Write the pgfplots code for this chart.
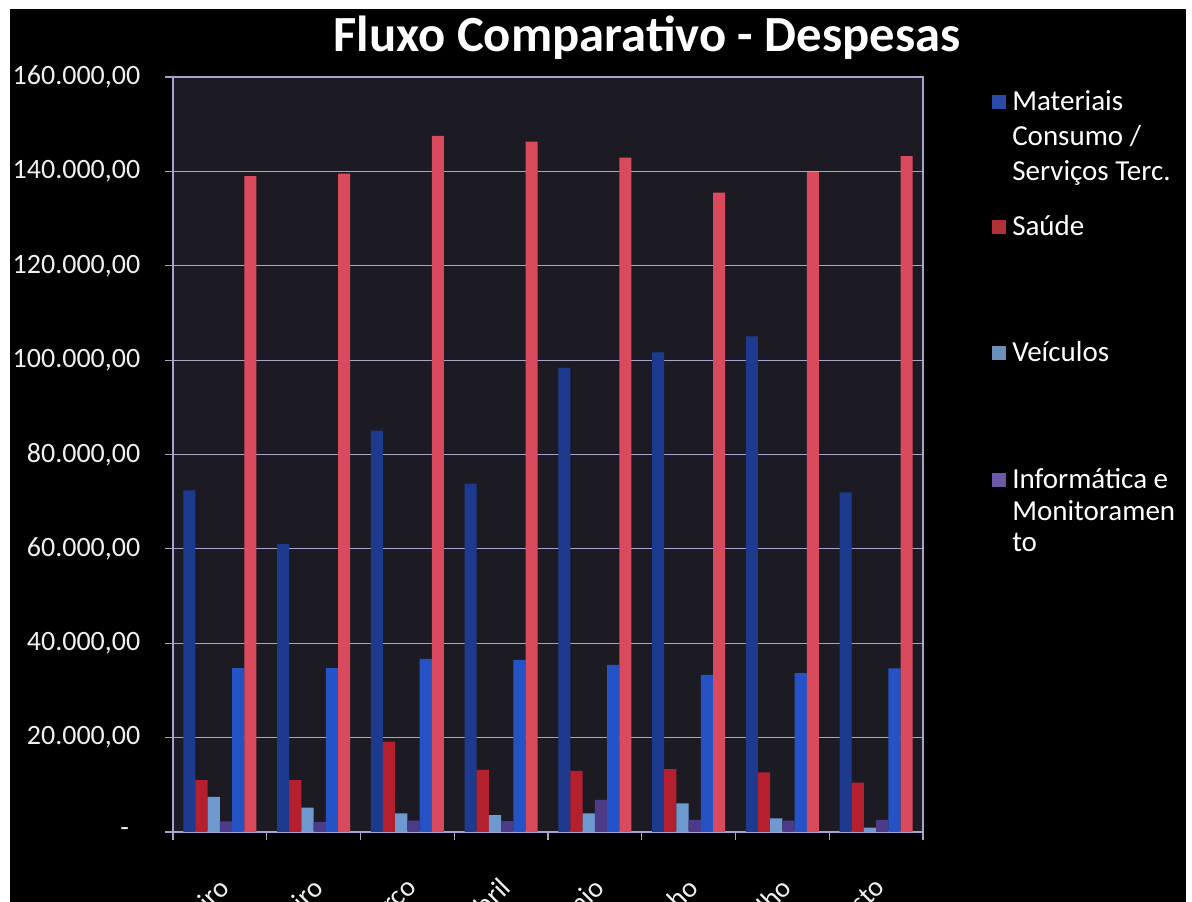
\documentclass[border=0pt]{standalone}
\usepackage{pgfplots}
\pgfplotsset{compat=1.18}
\usepackage{fontspec}
\setmainfont{Carlito}

\definecolor{plotbg}{HTML}{1C1B24}
\definecolor{gridc}{HTML}{A9A3D0}
\definecolor{matA}{HTML}{1E3A8E}
\definecolor{saudeA}{HTML}{B5202F}
\definecolor{veic}{HTML}{6F9AD0}
\definecolor{info}{HTML}{4D3B8A}
\definecolor{matB}{HTML}{2553C5}
\definecolor{saudeB}{HTML}{D94A5C}
\definecolor{legMat}{HTML}{2A4AA8}
\definecolor{legSau}{HTML}{B0303A}
\definecolor{legVei}{HTML}{6A8FB8}
\definecolor{legInf}{HTML}{6A5AA8}

\newcommand{\tickfont}{\fontsize{21}{25}\selectfont}
\newcommand{\legfont}{\fontsize{21.75}{26}\selectfont}

\begin{document}
\begin{tikzpicture}[x=0.75pt,y=0.75pt]
\useasboundingbox (0,0) rectangle (1192,902);
\clip (0,0) rectangle (1192,902);
\fill[white] (0,0) rectangle (1192,902);
\fill[black] (10,0) rectangle (1186,893);

\begin{axis}[
  at={(129.75pt,52.5pt)}, anchor=south west,
  width=562.5pt, height=566.25pt, scale only axis,
  xmin=0.5, xmax=8.5, ymin=0, ymax=160000,
  ybar=0pt, bar width=9.15pt,
  axis background/.style={fill=plotbg},
  axis line style={gridc, line width=0.8pt},
  tick style={gridc, line width=0.8pt},
  tick align=outside,
  major tick length=6pt,
  ymajorgrids,
  grid style={gridc, line width=0.8pt},
  scaled y ticks=false,
  ytick={0,20000,40000,60000,80000,100000,120000,140000,160000},
  yticklabels={{\makebox[15pt][l]{-}},{20.000,00},{40.000,00},{60.000,00},{80.000,00},{100.000,00},{120.000,00},{140.000,00},{160.000,00}},
  yticklabel style={font=\tickfont, text=white!94!black, xshift=-15pt},
  xtick={0.5,1.5,...,8.5},
  xticklabels={},
  xtick pos=bottom, ytick pos=left,
  extra x ticks={1,2,3,4,5,6,7,8},
  extra x tick labels={Janeiro,Fevereiro,Março,Abril,Maio,Junho,Julho,Agosto},
  extra x tick style={major tick length=0pt,
    xticklabel style={font=\tickfont, text=white!94!black,
      xshift=-2pt, yshift=-28pt, rotate=45, anchor=north east}},
  every axis plot/.append style={draw=none},
]
% Materiais Consumo / Serviços Terc.
\addplot[fill=matA] coordinates {(1,72400) (2,61000) (3,85050) (4,73800) (5,98350) (6,101660) (7,105050) (8,71970)};
% Saúde
\addplot[fill=saudeA] coordinates {(1,10970) (2,11000) (3,19150) (4,13150) (5,12940) (6,13300) (7,12660) (8,10460)};
% Veículos
\addplot[fill=veic] coordinates {(1,7430) (2,5170) (3,3970) (4,3600) (5,3970) (6,6090) (7,2900) (8,900)};
% Informática e Monitoramento
\addplot[fill=info] coordinates {(1,2270) (2,2130) (3,2400) (4,2330) (5,6790) (6,2550) (7,2400) (8,2550)};
% second pair of series
\addplot[fill=matB] coordinates {(1,34720) (2,34720) (3,36700) (4,36480) (5,35420) (6,33300) (7,33660) (8,34700)};
\addplot[fill=saudeB] coordinates {(1,139000) (2,139500) (3,147500) (4,146300) (5,142900) (6,135470) (7,139840) (8,143230)};
\end{axis}

% title
\node[anchor=base, text=white, font=\fontsize{38}{44}\selectfont\bfseries, inner sep=0] at (647,850) {Fluxo Comparativo - Despesas};

% legend
\fill[legMat] (992,793.3) rectangle (1006,807.3);
\node[anchor=base west, text=white, font=\legfont, inner sep=0] at (1012,791) {Materiais};
\node[anchor=base west, text=white, font=\legfont, inner sep=0] at (1012,756) {Consumo /};
\node[anchor=base west, text=white, font=\legfont, inner sep=0] at (1012,721) {Serviços Terc.};
\fill[legSau] (992,668.3) rectangle (1006,682.3);
\node[anchor=base west, text=white, font=\legfont, inner sep=0] at (1012,666) {Saúde};
\fill[legVei] (992,542) rectangle (1006,556);
\node[anchor=base west, text=white, font=\legfont, inner sep=0] at (1012,540) {Veículos};
\fill[legInf] (992,415) rectangle (1006,429);
\node[anchor=base west, text=white, font=\legfont, inner sep=0] at (1012,413) {Informática e};
\node[anchor=base west, text=white, font=\legfont, inner sep=0] at (1012,381) {Monitoramen};
\node[anchor=base west, text=white, font=\legfont, inner sep=0] at (1012,350) {to};
\end{tikzpicture}
\end{document}
